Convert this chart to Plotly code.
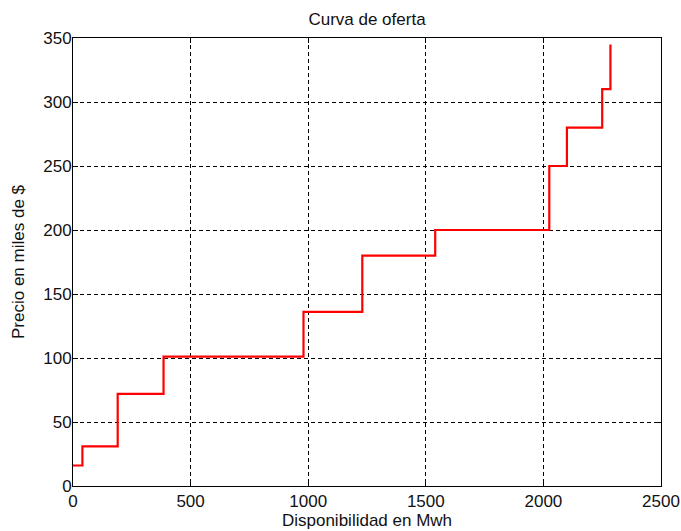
import plotly.graph_objects as go

# Step breakpoints (MWh) and price level (thousands of $) starting at each breakpoint
disponibilidad = [0, 40, 190, 385, 980, 1230, 1540, 2025, 2100, 2250, 2285]
precio = [16, 31, 72, 101, 136, 180, 200, 250, 280, 310, 345]

x_ticks = [0, 500, 1000, 1500, 2000, 2500]
y_ticks = [0, 50, 100, 150, 200, 250, 300, 350]

W, H = 681, 531

fig = go.Figure()
fig.add_trace(go.Scatter(
    x=disponibilidad, y=precio, mode="lines", line_shape="hv",
    line=dict(color="#ff0000", width=2.2), showlegend=False,
))

font = dict(family="Liberation Sans, Arial, sans-serif", size=17, color="#111111")
axis_common = dict(
    showline=True, linecolor="black", linewidth=1, mirror="ticks",
    ticks="inside", ticklen=5, tickcolor="black",
    showgrid=True, gridcolor="black", gridwidth=1, griddash="4px,3px",
    zeroline=False, tickfont=font, automargin=False,
)

fig.update_layout(
    width=W, height=H,
    paper_bgcolor="white", plot_bgcolor="white",
    margin=dict(l=73, r=20, t=38, b=45),
    font=font,
    title=dict(text="Curva de oferta", x=0.5, xref="paper", xanchor="center",
               y=1 - 19 / H, yref="container", yanchor="middle",
               font=font),
    xaxis=dict(range=[0, 2500], tickvals=x_ticks, ticktext=[str(v) for v in x_ticks],
               title=dict(text="Disponibilidad en Mwh", font=font, standoff=0),
               **axis_common),
    yaxis=dict(range=[0, 350], tickvals=y_ticks, ticktext=[str(v) for v in y_ticks],
               ticklabelstandoff=-3,
               title=dict(text="Precio en miles de $", font=font, standoff=14),
               **axis_common),
)

fig.write_html(
    "out.html",
    config={"displayModeBar": False},
    post_script="document.body.style.margin='0';document.body.style.overflow='hidden';",
)
